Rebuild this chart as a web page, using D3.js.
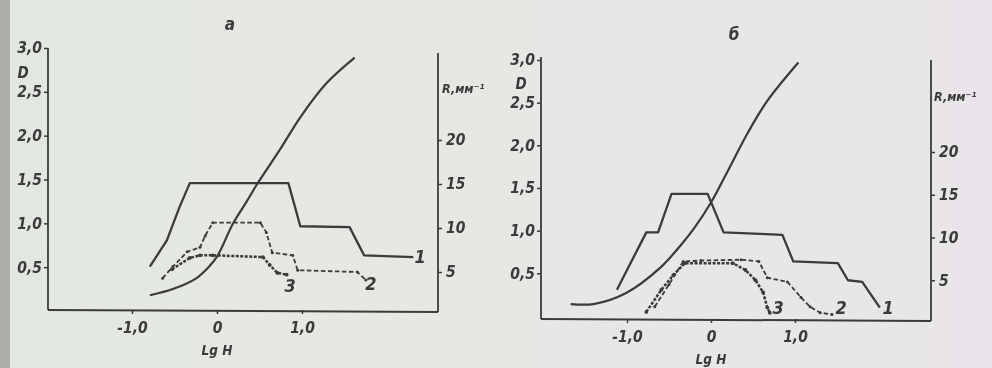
<!DOCTYPE html>
<html><head><meta charset="utf-8">
<script src="https://cdn.jsdelivr.net/npm/d3@7/dist/d3.min.js"></script>
<style>
html,body{margin:0;padding:0;background:#e6e8e3;}
svg{display:block;}
.t{font-family:"Liberation Sans Narrow","DejaVu Sans Condensed","Roboto",sans-serif;font-style:italic;font-weight:bold;fill:#3a3b3a;}
</style></head><body>
<svg id="c" width="992" height="368"></svg>
<script>
// ---------- DATA (panel а) ----------
const lgA_D = [-0.79,-0.52,-0.25,-0.10,0.00,0.19,0.35,0.48,0.74,0.98,1.29,1.62];
const D_A   = [0.18,0.25,0.37,0.50,0.62,1.00,1.25,1.46,1.84,2.21,2.60,2.89];
const lgA_1 = [-0.79,-0.59,-0.44,-0.32,0.84,0.98,1.56,1.73,2.31];
const R_A1  = [5.6,8.6,12.4,15.1,15.1,10.2,10.1,6.9,6.7];
const lgA_2 = [-0.64,-0.52,-0.35,-0.20,-0.14,-0.05,0.51,0.58,0.65,0.89,0.95,1.65,1.75];
const R_A2  = [4.3,5.6,7.3,7.8,9.1,10.6,10.6,9.5,7.2,6.9,5.2,5.0,4.1];
const lgA_3 = [-0.53,-0.32,-0.20,-0.05,0.54,0.62,0.71,0.82];
const R_A3  = [5.3,6.6,6.9,6.9,6.7,5.8,4.9,4.7];
// ---------- DATA (panel б) ----------
const lgB_D = [-1.67,-1.40,-1.01,-0.60,-0.36,-0.20,0.00,0.20,0.44,0.67,1.04];
const D_B   = [0.14,0.14,0.27,0.57,0.83,1.03,1.33,1.70,2.15,2.52,2.97];
const lgB_1 = [-1.12,-0.77,-0.63,-0.47,-0.04,0.15,0.85,0.98,1.51,1.63,1.80,2.01];
const R_B1  = [3.9,10.6,10.6,15.1,15.1,10.6,10.3,7.2,7.0,5.0,4.8,1.8];
const lgB_2 = [-0.67,-0.50,-0.33,-0.12,0.36,0.57,0.67,0.91,1.07,1.18,1.30,1.44];
const R_B2  = [1.9,4.5,7.2,7.3,7.4,7.2,5.3,4.8,3.0,1.9,1.2,1.0];
const lgB_3 = [-0.77,-0.59,-0.45,-0.31,0.26,0.41,0.53,0.62,0.67,0.70];
const R_B3  = [1.3,3.9,5.6,7.0,7.0,6.2,5.0,3.6,1.8,1.2];
// ---------- TICKS / LABELS ----------
const xTicks = [-1,0,1];
const dTicks = [0.5,1,1.5,2,2.5,3];
const rTicks = [5,10,15,20];
const panelNames = ["а","б"];
const curveNames = ["1","2","3"];
const xTitle = "Lg H";
const dTitle = "D";
const rTitle = "R,мм⁻¹";
// curve label anchors (lgH, R)
const labA = [[2.39,6.0],[1.81,2.9],[0.86,2.7]];
const labB = [[2.11,1.0],[1.55,1.1],[0.80,1.1]];

// ---------- LAYOUT ----------
const layout = [
 {x:[132,302], yD:[311,48], yR:[316,140], left:48, right:438, top:48, rtop:53, bottom:310,
  title:[230,30], dLab:[23,78], rLab:[442,93], xLab:[217,355],
  D:[lgA_D,D_A], C:[[lgA_1,R_A1],[lgA_2,R_A2],[lgA_3,R_A3]], lab:labA},
 {x:[627,795], yD:[316,60], yR:[323,152], left:541, right:931, top:57, rtop:60, bottom:319,
  title:[734,40], dLab:[521,89], rLab:[934,101], xLab:[711,364],
  D:[lgB_D,D_B], C:[[lgB_1,R_B1],[lgB_2,R_B2],[lgB_3,R_B3]], lab:labB}
];

const svg = d3.select("#c");
const defs = svg.append("defs");
const g0 = defs.append("linearGradient").attr("id","bg").attr("x1","0").attr("x2","1").attr("y1","0").attr("y2","0");
g0.append("stop").attr("offset","0").attr("stop-color","#e3e7e1");
g0.append("stop").attr("offset","0.5").attr("stop-color","#e6e8e4");
g0.append("stop").attr("offset","1").attr("stop-color","#e9e5ea");
defs.append("filter").attr("id","blur").append("feGaussianBlur").attr("stdDeviation",0.45);
svg.append("rect").attr("width",992).attr("height",368).attr("fill","url(#bg)");
svg.append("rect").attr("width",10).attr("height",368).attr("fill","#abaea9");

const ink = "#3a3b3a";
const fmt = v => (v===0 ? "0" : d3.format(".1f")(v).replace(".",",").replace("\u2212","-"));

layout.forEach((p,i)=>{
  const g = svg.append("g").attr("filter","url(#blur)");
  const x = d3.scaleLinear().domain([-1,1]).range(p.x);
  const yD = d3.scaleLinear().domain([0,3]).range(p.yD);
  const yR = d3.scaleLinear().domain([0,20]).range(p.yR);

  // frame
  g.append("line").attr("x1",p.left).attr("x2",p.left).attr("y1",p.top).attr("y2",p.bottom).attr("stroke",ink).attr("stroke-width",1.8);
  g.append("line").attr("x1",p.left).attr("x2",p.right).attr("y1",p.bottom).attr("y2",p.bottom+2).attr("stroke",ink).attr("stroke-width",2);
  g.append("line").attr("x1",p.right).attr("x2",p.right).attr("y1",p.rtop).attr("y2",p.bottom+2).attr("stroke",ink).attr("stroke-width",1.8);

  // axes
  const ax = g.append("g").attr("transform",`translate(0,${p.bottom})`)
    .call(d3.axisBottom(x).tickValues(xTicks).tickSize(4).tickFormat(fmt));
  const al = g.append("g").attr("transform",`translate(${p.left},0)`)
    .call(d3.axisLeft(yD).tickValues(dTicks).tickSize(4).tickFormat(fmt));
  const ar = g.append("g").attr("transform",`translate(${p.right},0)`)
    .call(d3.axisRight(yR).tickValues(rTicks).tickSize(4).tickFormat(d=>String(d)));
  [ax,al,ar].forEach(a=>{
    a.select(".domain").remove();
    a.selectAll(".tick line").attr("stroke",ink).attr("stroke-width",1.5);
    a.selectAll(".tick text").attr("class","t").attr("font-size",15.5).attr("fill",ink);
  });
  ax.selectAll(".tick text").attr("y",12);
  al.selectAll(".tick text").attr("x",-6);
  ar.selectAll(".tick text").attr("x",8);

  // titles
  g.append("text").attr("class","t").attr("x",p.title[0]).attr("y",p.title[1]).attr("text-anchor","middle").attr("font-size",17).text(panelNames[i]);
  g.append("text").attr("class","t").attr("x",p.dLab[0]).attr("y",p.dLab[1]).attr("text-anchor","middle").attr("font-size",15).text(dTitle);
  g.append("text").attr("class","t").attr("x",p.rLab[0]).attr("y",p.rLab[1]).attr("font-size",12.5).text(rTitle);
  g.append("text").attr("class","t").attr("x",p.xLab[0]).attr("y",p.xLab[1]).attr("text-anchor","middle").attr("font-size",13.5).text(xTitle);

  // D curve
  const lineD = d3.line().x(d=>x(d[0])).y(d=>yD(d[1])).curve(d3.curveCatmullRom.alpha(0.5));
  g.append("path").datum(d3.zip(p.D[0],p.D[1])).attr("d",lineD)
    .attr("fill","none").attr("stroke",ink).attr("stroke-width",2.2);

  // R curves
  const lineR = d3.line().x(d=>x(d[0])).y(d=>yR(d[1]));
  const styles = [
    {w:2.3, dash:null},
    {w:1.8, dash:"4.5,2.5"},
    {w:2.5, dash:"3,1.5"}
  ];
  p.C.forEach((c,k)=>{
    const pts = d3.zip(c[0],c[1]);
    g.append("path").datum(pts).attr("d",lineR).attr("fill","none")
      .attr("stroke",ink).attr("stroke-width",styles[k].w)
      .attr("stroke-linejoin","round")
      .attr("stroke-dasharray",styles[k].dash);
    if(k>0){
      g.selectAll(null).data(pts).enter().append("circle")
        .attr("cx",d=>x(d[0])).attr("cy",d=>yR(d[1])).attr("r",k===2?1.9:1.5).attr("fill",ink);
    }
    g.append("text").attr("class","t").attr("x",x(p.lab[k][0])).attr("y",yR(p.lab[k][1]))
      .attr("text-anchor","middle").attr("font-size",18).text(curveNames[k]);
  });
});
</script>
</body></html>
